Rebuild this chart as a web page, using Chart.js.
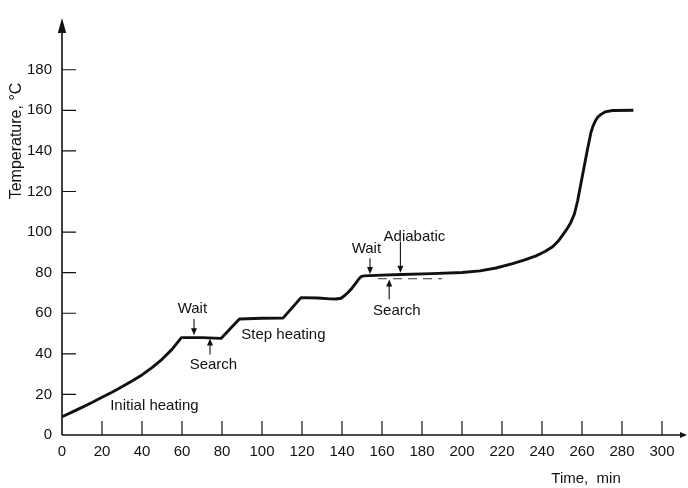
<!DOCTYPE html>
<html>
<head>
<meta charset="utf-8">
<script src="https://cdn.jsdelivr.net/npm/chart.js@4.4.1/dist/chart.umd.min.js"></script>
<style>
  html, body { margin: 0; padding: 0; background: #fff; }
  #wrap { width: 688px; height: 488px; }
</style>
</head>
<body>
<div id="wrap"><canvas id="c" width="688" height="488"></canvas></div>
<script>
// Temperature history of the sample (min, °C)
const timeMin = [0, 5, 10, 15, 20, 25, 30, 35, 40, 45, 50, 55, 59.7,
  70, 79.5,
  88.7, 100, 110.5,
  119.5, 128, 134, 137, 139.5, 141.2, 143, 144.5, 147, 148.5, 149.5, 151,
  160, 170, 185, 200, 209, 217, 225.3, 231, 237, 241.5, 245.3, 248.5, 252, 254.3, 256.2,
  257.8, 260.3, 262.8, 264.5, 265.5, 266.8, 268, 269.5, 271.5, 275.3, 285.7];
const temperature = [9, 11.3, 13.6, 16, 18.6, 21.1, 23.8, 26.6, 29.6, 33.2, 37.3, 42.2, 48,
  48, 47.6,
  57.2, 57.5, 57.6,
  67.7, 67.5, 67.1, 67, 67.4, 68.6, 70.2, 71.8, 75, 77, 78, 78.4,
  78.8, 79.1, 79.5, 80.1, 80.9, 82.3, 84.5, 86.2, 88.3, 90.4, 92.8, 96, 100.8, 104.5, 108.9,
  115.3, 128.2, 141.1, 149.2, 152.2, 155, 156.8, 158, 159.2, 159.9, 160];

// Reference level of the search phase (dashed)
const searchLevelTime = [158, 190];
const searchLevelTemp = [77, 77];

// Axis ticks
const xTicks = [0, 20, 40, 60, 80, 100, 120, 140, 160, 180, 200, 220, 240, 260, 280, 300];
const xTickLabels = ['0', '20', '40', '60', '80', '100', '120', '140', '160', '180', '200', '220', '240', '260', '280', '300'];
const yTicks = [0, 20, 40, 60, 80, 100, 120, 140, 160, 180];
const yTickLabels = ['0', '20', '40', '60', '80', '100', '120', '140', '160', '180'];

const xTitle = 'Time,  min';
const yTitle = 'Temperature, °C';

// Phase labels and arrows, in data units
const phaseLabels = [
  { text: 'Initial heating', t: 46.2, T: 14.5 },
  { text: 'Step heating', t: 110.7, T: 49.3 },
  { text: 'Wait', t: 65.2, T: 62.4 },
  { text: 'Search', t: 75.7, T: 34.8 },
  { text: 'Wait', t: 152.2, T: 91.9 },
  { text: 'Adiabatic', t: 176.2, T: 97.7 },
  { text: 'Search', t: 167.4, T: 61.4 }
];
const phaseArrows = [
  { t: 66, from: 57.2, to: 49.2 },
  { t: 74, from: 39.7, to: 47.6 },
  { t: 154, from: 87.1, to: 79.4 },
  { t: 169.2, from: 95.3, to: 79.9 },
  { t: 163.6, from: 66.9, to: 76.6 }
];

const FONT = '15px "Liberation Sans", Arial, sans-serif';
const INK = '#111';

const decorations = {
  id: 'decorations',
  afterDraw(chart) {
    const ctx = chart.ctx;
    const xs = chart.scales.x, ys = chart.scales.y;
    const area = chart.chartArea;
    const x0 = xs.getPixelForValue(0), y0 = ys.getPixelForValue(0);
    ctx.save();
    ctx.strokeStyle = INK;
    ctx.fillStyle = INK;

    // axis lines
    ctx.lineWidth = 1.6;
    ctx.beginPath();
    ctx.moveTo(x0, y0); ctx.lineTo(x0, area.top + 12);
    ctx.moveTo(x0, y0); ctx.lineTo(area.right, y0);
    ctx.stroke();

    // arrow heads at the axis ends
    ctx.beginPath();
    ctx.moveTo(x0, area.top - 1);
    ctx.lineTo(x0 - 4.2, area.top + 14);
    ctx.lineTo(x0 + 4.2, area.top + 14);
    ctx.closePath(); ctx.fill();
    ctx.beginPath();
    ctx.moveTo(area.right + 5, y0);
    ctx.lineTo(area.right - 2, y0 - 3);
    ctx.lineTo(area.right - 2, y0 + 3);
    ctx.closePath(); ctx.fill();

    // inward tick marks
    ctx.lineWidth = 1.2;
    ctx.beginPath();
    xTicks.forEach(v => {
      if (v === 0) return;
      const px = xs.getPixelForValue(v);
      ctx.moveTo(px, y0); ctx.lineTo(px, y0 - 14);
    });
    yTicks.forEach(v => {
      if (v === 0) return;
      const py = ys.getPixelForValue(v);
      ctx.moveTo(x0, py); ctx.lineTo(x0 + 14, py);
    });
    ctx.stroke();

    // phase arrows
    ctx.lineWidth = 1.1;
    phaseArrows.forEach(a => {
      const px = xs.getPixelForValue(a.t);
      const p1 = ys.getPixelForValue(a.from);
      const p2 = ys.getPixelForValue(a.to);
      const dir = p2 > p1 ? 1 : -1;
      ctx.beginPath();
      ctx.moveTo(px, p1); ctx.lineTo(px, p2 - dir * 6);
      ctx.stroke();
      ctx.beginPath();
      ctx.moveTo(px, p2);
      ctx.lineTo(px - 3, p2 - dir * 7);
      ctx.lineTo(px + 3, p2 - dir * 7);
      ctx.closePath(); ctx.fill();
    });

    // phase labels
    ctx.font = FONT;
    ctx.textAlign = 'center';
    ctx.textBaseline = 'middle';
    phaseLabels.forEach(l => {
      ctx.fillText(l.text, xs.getPixelForValue(l.t), ys.getPixelForValue(l.T));
    });

    // axis titles
    ctx.fillText(xTitle, 586, 479);
    ctx.save();
    ctx.translate(17, 141);
    ctx.rotate(-Math.PI / 2);
    ctx.font = '16px "Liberation Sans", Arial, sans-serif';
    ctx.fillText(yTitle, 0, 0);
    ctx.restore();

    ctx.restore();
  }
};

new Chart(document.getElementById('c'), {
  type: 'line',
  data: {
    datasets: [
      {
        data: timeMin.map((t, i) => ({ x: t, y: temperature[i] })),
        borderColor: INK,
        borderWidth: 2.9,
        pointRadius: 0,
        tension: 0,
        borderJoinStyle: 'round',
        borderCapStyle: 'butt'
      },
      {
        data: searchLevelTime.map((t, i) => ({ x: t, y: searchLevelTemp[i] })),
        borderColor: '#333',
        borderWidth: 1,
        borderDash: [9, 6],
        pointRadius: 0,
        tension: 0
      }
    ]
  },
  plugins: [decorations],
  options: {
    responsive: false,
    animation: false,
    events: [],
    layout: { padding: { top: 11, right: 6, left: 0, bottom: 0 } },
    plugins: { legend: { display: false }, tooltip: { enabled: false } },
    scales: {
      x: {
        type: 'linear',
        min: 0,
        max: 310,
        grid: { display: false, drawTicks: false },
        border: { display: false },
        afterBuildTicks: s => { s.ticks = xTicks.map(v => ({ value: v })); },
        afterFit: s => { s.height = 53; },
        ticks: {
          padding: 8,
          color: INK,
          font: { family: '"Liberation Sans", Arial, sans-serif', size: 15 },
          maxRotation: 0,
          autoSkip: false,
          callback: (v, i) => xTickLabels[i]
        }
      },
      y: {
        type: 'linear',
        min: 0,
        max: 205,
        grid: { display: false, drawTicks: false },
        border: { display: false },
        afterBuildTicks: s => { s.ticks = yTicks.map(v => ({ value: v })); },
        afterFit: s => { s.width = 62; },
        ticks: {
          padding: 10,
          color: INK,
          font: { family: '"Liberation Sans", Arial, sans-serif', size: 15 },
          autoSkip: false,
          callback: (v, i) => yTickLabels[i]
        }
      }
    }
  }
});
</script>
</body>
</html>
